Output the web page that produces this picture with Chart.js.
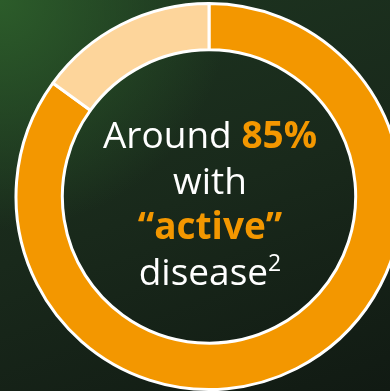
<!DOCTYPE html>
<html>
<head>
<meta charset="utf-8">
<script src="https://cdn.jsdelivr.net/npm/chart.js@4.4.1/dist/chart.umd.min.js"></script>
<style>
  html, body {
    margin: 0;
    padding: 0;
    width: 390px;
    height: 391px;
    overflow: hidden;
  }
  body {
    position: relative;
    background:
      radial-gradient(circle at 0 0, rgba(44, 92, 42, 1) 0px, rgba(44, 92, 42, 0) 230px),
      linear-gradient(160deg, #1d3520 0%, #19291b 50%, #111a13 100%);
  }
  #wrap {
    position: absolute;
    left: 0;
    top: 0;
    width: 418px;
    height: 393px;
  }
  #label {
    position: absolute;
    left: 60px;
    width: 300px;
    top: 111px;
    text-align: center;
    font-family: "Open Sans", sans-serif;
    font-size: 37px;
    line-height: 45.5px;
    color: #ffffff;
  }
  #label b {
    color: #f39700;
    font-weight: 700;
  }
  #label sup {
    font-size: 23px;
    vertical-align: 0;
    position: relative;
    top: -14px;
  }
</style>
</head>
<body>
<div id="wrap"><canvas id="donut"></canvas></div>
<div id="label">Around <b>85%</b><br>with<br><b>“active”</b><br>disease<sup>2</sup></div>
<script>
const categories = ["Active disease", "Other"];
const shares = [85, 15];
const sliceColors = ["#f39700", "#fdd59b"];

new Chart(document.getElementById("donut"), {
  type: "doughnut",
  data: {
    labels: categories,
    datasets: [
      {
        data: shares,
        backgroundColor: sliceColors,
        borderColor: "#ffffff",
        borderWidth: 3,
      },
    ],
  },
  options: {
    responsive: true,
    maintainAspectRatio: false,
    animation: false,
    cutout: "76%",
    layout: {
      padding: 2
    },
    plugins: {
      legend: {
        display: false
      },
      tooltip: {
        enabled: false
      }
    },
    events: [],
  },
});
</script>
</body>
</html>
